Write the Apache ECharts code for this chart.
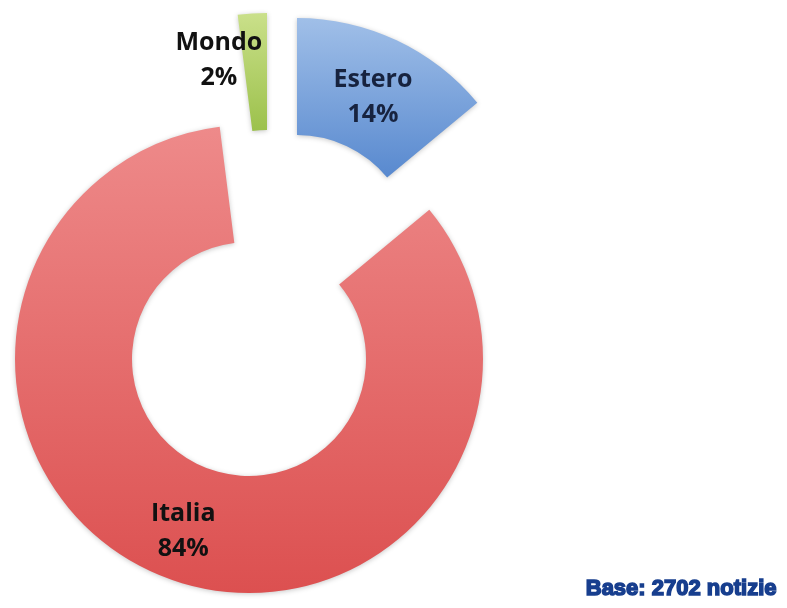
<!DOCTYPE html>
<html>
<head>
<meta charset="utf-8">
<style>
  html, body { margin: 0; padding: 0; background: #ffffff; }
  #chart { width: 787px; height: 608px; }
</style>
<script src="https://cdn.jsdelivr.net/npm/echarts@6/dist/echarts.min.js"></script>
</head>
<body>
<div id="chart"></div>
<script>
// Shares of news items by area (percent)
const categories = ['Estero', 'Italia', 'Mondo'];
const shares = [14, 84, 2];
const baseNote = 'Base: 2702 notizie';

// Per-slice look: gradient fill, label colour, exploded ring centre, label nudge
const sliceStyle = {
  Estero: { top: '#a0bfe8', bottom: '#5889cf', text: '#17233f', center: [297, 252], offset: [0, 7] },
  Italia: { top: '#ee8a8a', bottom: '#dc5050', text: '#111111', center: [249, 359], offset: [0, 6] },
  Mondo:  { top: '#cae08a', bottom: '#9cc14c', text: '#111111', center: [267, 247], offset: [-37, -8] }
};

function grad(top, bottom) {
  return {
    type: 'linear', x: 0, y: 0, x2: 0, y2: 1,
    colorStops: [{ offset: 0, color: top }, { offset: 1, color: bottom }]
  };
}

// One ring per slice so each slice can be pulled out on its own;
// the other slices of that ring stay invisible.
const series = categories.map(function (name, k) {
  const st = sliceStyle[name];
  return {
    type: 'pie',
    center: st.center,
    radius: [117, 234],
    startAngle: 90,
    clockwise: true,
    avoidLabelOverlap: false,
    silent: true,
    animation: false,
    emphasis: { disabled: true },
    labelLine: { show: false },
    data: categories.map(function (c, i) {
      const visible = i === k;
      return {
        name: c,
        value: shares[i],
        itemStyle: visible ? {
          color: grad(st.top, st.bottom),
          shadowBlur: 5,
          shadowColor: 'rgba(0,0,0,0.22)',
          shadowOffsetY: 1
        } : { color: 'rgba(0,0,0,0)' },
        label: visible ? {
          show: true,
          position: 'inside',
          formatter: '{b}\n{d}%',
          fontFamily: 'Open Sans',
          fontWeight: 'bold',
          fontSize: 25,
          lineHeight: 35,
          color: st.text,
          offset: st.offset
        } : { show: false }
      };
    })
  };
});

const chart = echarts.init(document.getElementById('chart'), null, { renderer: 'canvas' });
chart.setOption({
  backgroundColor: '#ffffff',
  title: {
    text: baseNote,
    right: 4,
    bottom: 2,
    textStyle: {
      fontFamily: 'Liberation Sans',
      fontWeight: 'bold',
      fontSize: 22,
      color: '#173e8e',
      textBorderColor: '#173e8e',
      textBorderWidth: 1.5
    }
  },
  series: series
});
</script>
</body>
</html>
